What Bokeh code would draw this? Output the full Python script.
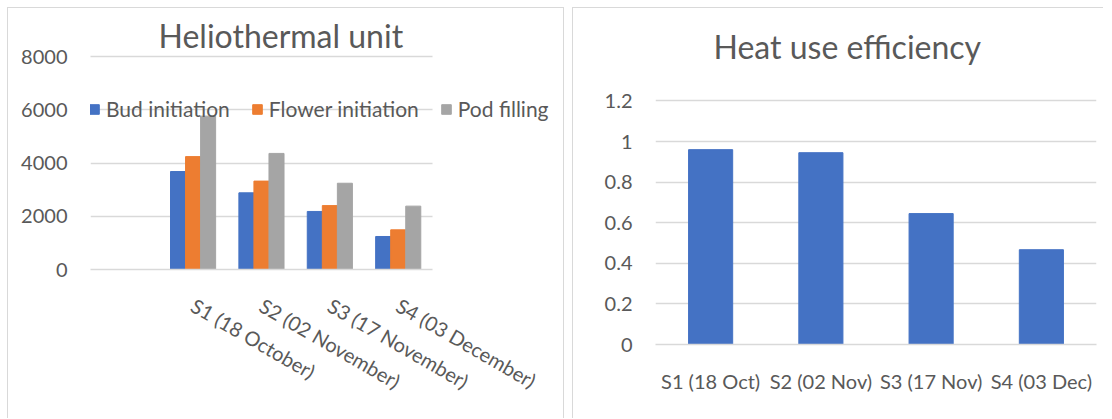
import math
from bokeh.plotting import figure
from bokeh.layouts import row, column
from bokeh.models import (ColumnDataSource, FactorRange, FixedTicker, NumeralTickFormatter,
                          Range1d, LinearAxis)
from bokeh.transform import dodge
from bokeh.embed import file_html
from bokeh.resources import INLINE

# ---------------- data ----------------
left_categories = ["S1 (18 October)", "S2 (02 November)", "S3 (17 November)", "S4 (03 December)"]
bud_initiation = [3680, 2880, 2180, 1240]
flower_initiation = [4240, 3320, 2400, 1490]
pod_filling = [5760, 4360, 3240, 2380]
left_ticks = [0, 2000, 4000, 6000, 8000]

right_categories = ["S1 (18 Oct)", "S2 (02 Nov)", "S3 (17 Nov)", "S4 (03 Dec)"]
heat_use_efficiency = [0.96, 0.945, 0.645, 0.467]
right_ticks = [0, 0.2, 0.4, 0.6, 0.8, 1.0, 1.2]

FONT = "Lato"
TEXT = "#595959"
GRID = "#d9d9d9"
BLUE, ORANGE, GRAY = "#4472C4", "#ED7D31", "#A5A5A5"


def style(p):
    p.outline_line_color = None
    p.xgrid.grid_line_color = None
    p.ygrid.grid_line_color = GRID
    p.ygrid.grid_line_width = 1.5
    for ax in (p.xaxis[0], p.yaxis[0]):
        ax.major_tick_line_color = None
        ax.minor_tick_line_color = None
        ax.major_tick_out = 0
        ax.major_tick_in = 0
        ax.major_label_text_font = FONT
        ax.major_label_text_font_size = "20px"
        ax.major_label_text_color = TEXT
    p.yaxis.axis_line_color = None
    p.yaxis.major_label_standoff = 23
    p.xaxis.axis_line_color = GRID
    p.xaxis.axis_line_width = 1.5
    p.title.text_font = FONT
    p.title.text_font_style = "normal"
    p.title.text_color = TEXT
    p.title.align = "left"


# ---------------- left chart ----------------
# category slots: one empty slot first (as in the original workbook), then S1..S4
slot_x = [i + 1.5 for i in range(len(left_categories))]
n_slots = len(left_categories) + 1
src = ColumnDataSource(dict(x=slot_x, bud=bud_initiation,
                            flower=flower_initiation, pod=pod_filling))
p1 = figure(width=555, height=411,
            x_range=Range1d(0, 6.8),
            y_range=Range1d(0, 8000),
            output_backend="svg", toolbar_location=None,
            min_border_left=82, min_border_right=8, min_border_top=48, min_border_bottom=150,
            title="Heliothermal unit")
p1.vbar(x=dodge("x", -0.22), top="bud", width=0.22, source=src, color=BLUE,
        legend_label="Bud initiation")
p1.vbar(x=dodge("x", 0.0), top="flower", width=0.22, source=src, color=ORANGE,
        legend_label="Flower initiation")
p1.vbar(x=dodge("x", 0.22), top="pod", width=0.22, source=src, color=GRAY,
        legend_label="Pod filling")
style(p1)
p1.yaxis.ticker = FixedTicker(ticks=left_ticks)
p1.xaxis.ticker = FixedTicker(ticks=slot_x)
p1.xaxis.major_label_overrides = {x: c for x, c in zip(slot_x, left_categories)}
p1.xaxis.bounds = (0, n_slots)
p1.xaxis.major_label_orientation = -math.pi / 6
p1.xaxis.major_label_standoff = 34
p1.ygrid[0].bounds = (-1000, 9000)
try:
    p1.ygrid[0].cross_bounds = (0, n_slots)
except Exception:
    pass

# top gridline (at the 8000 tick) drawn as an unlabeled axis line along the frame top
top_axis = LinearAxis(ticker=FixedTicker(ticks=[]), bounds=(0, n_slots),
                      axis_line_color=GRID, axis_line_width=1.5,
                      major_tick_line_color=None, minor_tick_line_color=None,
                      major_tick_out=0, major_tick_in=0, major_label_standoff=0,
                      major_label_text_font_size="0px")
p1.add_layout(top_axis, "above")

p1.title.text_font_size = "32px"
p1.title.offset = 68
p1.title.standoff = 4

leg = p1.legend[0]
leg.orientation = "horizontal"
leg.location = (-2, 148)
leg.padding = 0
leg.margin = 0
leg.spacing = 21
leg.glyph_width = 12
leg.glyph_height = 12
leg.label_standoff = 6
leg.label_text_font = FONT
leg.label_text_font_size = "21px"
leg.label_text_color = TEXT
leg.background_fill_alpha = 0
leg.border_line_color = None
p1.styles = {"box-shadow": "-1px -1px 0 0 #d9d9d9, 1px -1px 0 0 #d9d9d9"}

# ---------------- right chart ----------------
src2 = ColumnDataSource(dict(cat=right_categories, val=heat_use_efficiency))
p2 = figure(width=531, height=411,
            x_range=FactorRange(factors=right_categories, range_padding=0),
            y_range=Range1d(0, 1.35),
            output_backend="svg", toolbar_location=None,
            min_border_left=82, min_border_right=8, min_border_top=62, min_border_bottom=75,
            title="Heat use efficiency")
p2.vbar(x="cat", top="val", width=0.4, source=src2, color=BLUE)
style(p2)
p2.yaxis.ticker = FixedTicker(ticks=right_ticks)
p2.yaxis.formatter = NumeralTickFormatter(format="0.[0]")
p2.ygrid[0].bounds = (-0.1, 1.3)
p2.xaxis.major_label_standoff = 24
p2.title.text_font_size = "32px"
p2.title.offset = 58
p2.title.standoff = 10
p2.styles = {"box-shadow": "-1px -1px 0 0 #d9d9d9"}

layout = row(column(p1), column(p2), spacing=10)
layout.styles = {"margin-left": "8px", "margin-top": "8px"}
open("out.html", "w").write(file_html(layout, INLINE))
